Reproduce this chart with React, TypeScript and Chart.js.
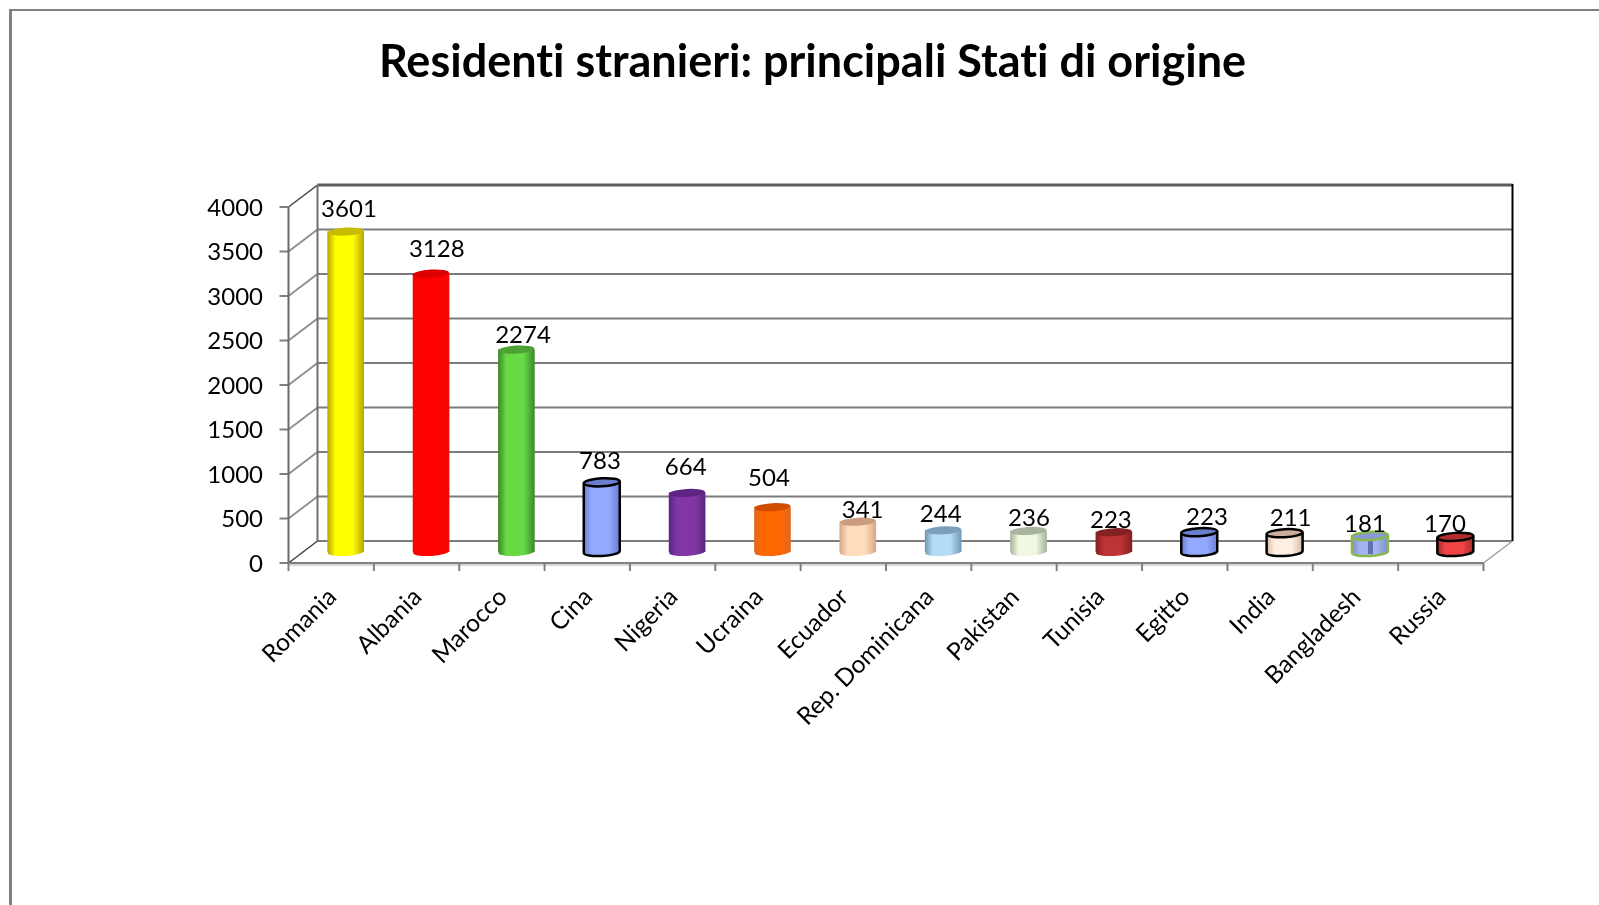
import React, { useEffect, useRef } from "react";
import { Chart, registerables } from "chart.js";

Chart.register(...registerables);

const titleText = "Residenti stranieri: principali Stati di origine";
const categories = ["Romania", "Albania", "Marocco", "Cina", "Nigeria", "Ucraina", "Ecuador", "Rep. Dominicana", "Pakistan", "Tunisia", "Egitto", "India", "Bangladesh", "Russia"];
const values = [3601, 3128, 2274, 783, 664, 504, 341, 244, 236, 223, 223, 211, 181, 170];
const yTicks = [0, 500, 1000, 1500, 2000, 2500, 3000, 3500, 4000];

// styles per bar
const barLight = ["#ffff00", "#ff0000", "#66d944", "#94a8ff", "#8236a6", "#ff6600", "#ffdcbc", "#b4dcf6", "#f0f8e4", "#bc3434", "#94a8ff", "#ffeee2", "#a4b4f0", "#ee4444"];
const barEdge = ["#b8a800", "#f00808", "#3f8a2c", "#6a7ed0", "#5c2680", "#e06a20", "#d8a888", "#7098b8", "#a8b498", "#842020", "#6a7ed0", "#d8b8a4", "#7c8cc8", "#a82828"];
const barCap = ["#c8bc00", "#dc0000", "#4ca034", "#6a7ecc", "#5e2484", "#d04c00", "#cc9c80", "#7ca0bc", "#a8b4a0", "#842222", "#6a7ecc", "#ccac9c", "#8898d4", "#b42c2c"];
const barOutline = ["", "", "", "#000000", "", "", "", "", "", "", "#000000", "#000000", "#86b84c", "#000000"];
// offsets of the value labels from the top of each bar
const labelDx = [3.3, 5.7, 6.6, -1.8, -1.4, -3.5, 4.8, -2.5, 0.4, -3, 7.7, 6, -5, -10.4];
const labelDy = [-22.5, -24.6, -14.6, -20.6, -25.9, -29, -11.6, -16.3, -13, -12.2, -14.5, -15.2, -11.9, -12.9];

const FONT = "Lato, 'Open Sans', sans-serif";
const BAR_W = 36;
const DX = 14.5;
const DY = 11;
const TILT = -0.055;

function gradient(c: CanvasRenderingContext2D, x: number, i: number) {
  const g = c.createLinearGradient(x - BAR_W / 2, 0, x + BAR_W / 2, 0);
  g.addColorStop(0, barEdge[i]);
  g.addColorStop(0.22, barLight[i]);
  g.addColorStop(0.7, barLight[i]);
  g.addColorStop(1, barEdge[i]);
  return g;
}

const backdrop = {
  id: "backdrop",
  beforeDraw(chart: any) {
    const c = chart.ctx as any;
    // keeps "ti" as two letters, as in the reference
    c.letterSpacing = "0.01px";
    c.save();
    c.fillStyle = "#ffffff";
    c.fillRect(0, 0, chart.width, chart.height);
    c.fillStyle = "#808080";
    c.fillRect(9, 9, chart.width - 9, 2);
    c.fillRect(9, 9, 3, chart.height - 9);
    c.restore();
  },
  beforeDatasetsDraw(chart: any) {
    const c = chart.ctx as CanvasRenderingContext2D;
    const { y } = chart.scales;
    const { left, right } = chart.chartArea;
    const line = (x1: number, y1: number, x2: number, y2: number, col: string, w: number) => {
      c.strokeStyle = col;
      c.lineWidth = w;
      c.beginPath();
      c.moveTo(x1, y1);
      c.lineTo(x2, y2);
      c.stroke();
    };
    c.save();
    // floor shading
    line(left - DX, y.getPixelForValue(0) + DY + 1.5, right - DX, y.getPixelForValue(0) + DY + 1.5, "#d8d8d8", 3);
    yTicks.forEach((v) => {
      const p = y.getPixelForValue(v);
      const top = v === 4000;
      line(left + DX, p - DY, right + DX, p - DY, top ? "#5c5c5c" : "#7c7c7c", top ? 3 : 2);
      line(left - DX, p + DY, left + DX, p - DY, v === 0 || top ? "#404040" : "#909090", v === 0 || top ? 1.5 : 2);
      line(left - DX - 9, p + DY, left - DX, p + DY, "#808080", 2);
    });
    const yBottom = y.getPixelForValue(0);
    const yTop = y.getPixelForValue(4000);
    line(left - DX, yTop + DY, left - DX, yBottom + DY, "#6a6a6a", 2);
    line(left + DX, yTop - DY, left + DX, yBottom - DY, "#707070", 2);
    line(right + DX, yTop - DY - 1, right + DX, yBottom - DY, "#000000", 2);
    line(left - DX, yBottom + DY, right - DX, yBottom + DY, "#808080", 2);
    line(right - DX, yBottom + DY, right + DX, yBottom - DY, "#a0a0a0", 1.5);
    const step = (right - left) / categories.length;
    for (let i = 0; i <= categories.length; i++) {
      const tx = left - DX + step * i;
      line(tx, yBottom + DY, tx, yBottom + DY + 8, "#808080", 2);
    }
    c.restore();
  },
  afterDatasetsDraw(chart: any) {
    const c = chart.ctx as CanvasRenderingContext2D;
    const meta = chart.getDatasetMeta(0);
    const y0 = chart.scales.y.getPixelForValue(0);
    const rx = BAR_W / 2;
    const ry = 4;
    c.save();
    meta.data.forEach((bar: any, i: number) => {
      const x = bar.x;
      const top = bar.y;
      c.fillStyle = gradient(c, x, i);
      c.beginPath();
      c.ellipse(x, y0, rx, ry, TILT, 0, Math.PI * 2);
      c.fill();
      if (categories[i] === "Bangladesh") {
        c.fillStyle = "#5f70ae";
        c.fillRect(x - 2, top - 2, 5, y0 - top + 4);
      }
      c.fillStyle = barCap[i];
      c.beginPath();
      c.ellipse(x, top, rx, ry, TILT, 0, Math.PI * 2);
      c.fill();
      if (barOutline[i]) {
        c.strokeStyle = barOutline[i];
        c.lineWidth = 2.5;
        c.beginPath();
        c.ellipse(x, top, rx, ry, TILT, 0, Math.PI * 2);
        c.stroke();
        c.beginPath();
        c.ellipse(x, y0, rx, ry, TILT, 0, Math.PI);
        c.stroke();
        c.beginPath();
        c.moveTo(x - rx, top + 1);
        c.lineTo(x - rx, y0 + 1);
        c.moveTo(x + rx, top - 1);
        c.lineTo(x + rx, y0 - 1);
        c.stroke();
      }
    });
    c.fillStyle = "#000000";
    c.font = `24px ${FONT}`;
    c.textAlign = "center";
    c.textBaseline = "middle";
    meta.data.forEach((bar: any, i: number) => {
      c.fillText(String(values[i]), bar.x + labelDx[i], bar.y + labelDy[i]);
    });
    c.restore();
  },
};

export default function App() {
  const ref = useRef<HTMLCanvasElement>(null);
  useEffect(() => {
    const chart = new Chart(ref.current as HTMLCanvasElement, {
      type: "bar",
      data: {
        labels: categories,
        datasets: [
          {
            data: values,
            barThickness: BAR_W,
            borderWidth: 0,
            backgroundColor: (ctx: any) => {
              const sc = ctx.chart.scales?.x;
              if (!ctx.chart.chartArea || !sc) return barLight[ctx.dataIndex] ?? "#000";
              return gradient(ctx.chart.ctx, sc.getPixelForValue(ctx.dataIndex), ctx.dataIndex);
            },
          },
        ],
      },
      options: {
        animation: false,
        responsive: false,
        layout: { padding: { left: 127, right: 101, top: 0, bottom: 0 } },
        plugins: {
          legend: { display: false },
          tooltip: { enabled: false },
          title: {
            display: true,
            text: titleText,
            color: "#000000",
            font: { family: FONT, size: 45, weight: "bold", lineHeight: 1.2 },
            padding: { top: 35, bottom: 107 },
          },
        },
        scales: {
          x: {
            grid: { display: false },
            border: { display: false },
            afterFit: (s: any) => {
              s.height = 353;
            },
            ticks: {
              autoSkip: false,
              minRotation: 45,
              maxRotation: 45,
              padding: 22.5,
              labelOffset: -13.5,
              color: "#000000",
              font: { family: FONT, size: 24.5 },
            },
          },
          y: {
            min: 0,
            max: 4000,
            grid: { display: false },
            border: { display: false },
            afterFit: (s: any) => {
              s.width = 176;
            },
            ticks: {
              stepSize: 500,
              padding: 32,
              labelOffset: 12,
              color: "#000000",
              font: { family: FONT, size: 24 },
              callback: (v: any) => String(v),
            },
          },
        },
      },
      plugins: [backdrop],
    } as any);
    return () => chart.destroy();
  }, []);
  return (
    <canvas
      ref={ref}
      width={1599}
      height={905}
      style={{ position: "absolute", left: 0, top: 0, display: "block", filter: "blur(0.4px)" }}
    />
  );
}
